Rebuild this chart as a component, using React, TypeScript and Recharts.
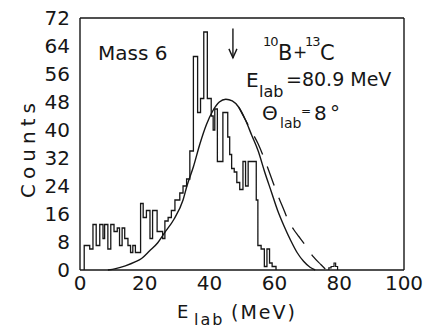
import React from "react"
import { ComposedChart, Line, XAxis, YAxis } from "recharts"

const FONT = "'DejaVu Sans', sans-serif"
const INK = "#161616"

// x ticks (MeV) and y ticks (counts)
const X_TICKS = [0, 20, 40, 60, 80, 100]
const Y_TICKS = [0, 8, 16, 24, 32, 40, 48, 56, 64, 72]

// histogram: left edge of each channel (MeV) and its counts
const HIST_E = [
  1.3, 1.3, 3.0, 4.0, 5.0, 6.1, 7.1, 7.6, 8.6, 9.5, 10.5, 11.5, 12.2, 13.0, 13.8, 14.8, 15.6, 16.3, 17.1,
  18.7, 19.5, 20.5, 21.6, 22.4, 23.8, 25.5, 26.2, 27.2, 28.2, 29.3, 30.8, 31.8, 32.9, 33.9, 35.0, 36.3,
  37.2, 38.2, 39.3, 40.5, 41.1, 41.6, 42.4, 44.1, 45.6, 46.2, 46.8, 47.6, 48.4, 49.3, 50.3, 51.1, 51.9,
  54.4, 54.9, 55.9, 56.9, 57.7, 58.5, 59.3, 60.5,
]
const HIST_COUNTS = [
  0, 7, 6, 13, 7, 13, 9, 13, 6, 13, 11, 12, 7, 12, 9, 7, 5, 7, 5,
  19, 15, 17, 9, 17, 11, 9, 14, 15, 17, 20, 22, 24, 26, 34, 61, 45,
  49, 68, 49, 44, 40, 46, 31, 45, 38, 33, 29, 28, 25, 23, 31, 24, 31,
  20, 7, 6, 1, 6, 2, 1, 0,
]

// the few counts near 80 MeV
const BUMP_E = [76.8, 76.8, 77.5, 78.4, 78.9, 79.5]
const BUMP_COUNTS = [0, 0.6, 1, 2, 1, 0]

// solid calculated curve
const SOLID_E = [
  8.6, 11, 14, 17, 19, 21.5, 24, 26, 29, 31.8, 33, 35, 37, 39, 41, 43, 45, 47, 49, 51, 53, 55, 57, 59, 61,
  63, 65, 67, 69, 71, 72.6,
]
const SOLID_COUNTS = [
  0, 0.4, 1.2, 2.3, 3.3, 5.5, 7.8, 10.5, 14.5, 20, 24, 29.5, 36, 41.5, 45.5, 48, 48.8, 48.3, 46.5, 43,
  38.5, 34, 28, 22.5, 17, 12.5, 8.5, 5, 2.5, 0.8, 0,
]

// dashed curve (splits off the solid one on the high-energy side)
const DASH_E = [49, 51, 53, 55, 57, 59, 61, 63, 64.2, 66, 67.6, 70.2, 72, 74.4, 76]
const DASH_COUNTS = [46.5, 43, 39.5, 36, 31.5, 26.5, 21.5, 17, 14.3, 11.5, 9.5, 6.2, 3.8, 1.5, 0]

// arrow marking the expected energy
const ARROW_E = [47.2, 47.2]
const ARROW_COUNTS = [69, 60.6]

const toPoints = (es: number[], cs: number[]) => es.map((E, i) => ({ E, c: cs[i] }))

const hist = toPoints(HIST_E, HIST_COUNTS)
const bump = toPoints(BUMP_E, BUMP_COUNTS)
const solid = toPoints(SOLID_E, SOLID_COUNTS)
const dashed = toPoints(DASH_E, DASH_COUNTS)
const arrow = toPoints(ARROW_E, ARROW_COUNTS)

const tickStyle = { fill: INK, fontSize: 20, fontFamily: FONT }
const frameLine = { stroke: INK, strokeWidth: 1.4 }
const innerTick = { stroke: INK, strokeWidth: 1.2 }

const ArrowHead = (props: any) => {
  const { cx, cy, index } = props
  if (index !== 1) return <g key={`a-${index}`} />
  return (
    <path
      key={`a-${index}`}
      d={`M${cx - 4},${cy - 9} L${cx},${cy} L${cx + 4},${cy - 9}`}
      fill="none"
      stroke={INK}
      strokeWidth={1.4}
    />
  )
}

export default function App() {
  return (
    <div style={{ position: "absolute", left: 0, top: 0, width: 426, height: 330, background: "#fff" }}>
      <ComposedChart width={426} height={330} margin={{ top: 18, right: 22, bottom: 0, left: 0 }}>
        <XAxis
          xAxisId="x"
          dataKey="E"
          type="number"
          domain={[0, 100]}
          ticks={X_TICKS}
          interval={0}
          height={60}
          tickLine={false}
          axisLine={false}
          tickMargin={0}
          tick={tickStyle}
        />
        <XAxis xAxisId="xb" type="number" domain={[0, 100]} ticks={X_TICKS} interval={0} orientation="bottom"
          mirror tick={false} tickSize={5} axisLine={frameLine} tickLine={innerTick} />
        <XAxis xAxisId="xt" type="number" domain={[0, 100]} ticks={X_TICKS} interval={0} orientation="top"
          mirror tick={false} tickSize={5} axisLine={frameLine} tickLine={innerTick} />
        <YAxis
          yAxisId="y"
          type="number"
          domain={[0, 72]}
          ticks={Y_TICKS}
          interval={0}
          width={80}
          tickLine={false}
          axisLine={false}
          tickMargin={4}
          tick={tickStyle}
        />
        <YAxis yAxisId="yl" type="number" domain={[0, 72]} ticks={Y_TICKS} interval={0} orientation="left"
          mirror tick={false} tickSize={5} axisLine={frameLine} tickLine={innerTick} />
        <YAxis yAxisId="yr" type="number" domain={[0, 72]} ticks={Y_TICKS} interval={0} orientation="right"
          mirror tick={false} tickSize={5} axisLine={frameLine} tickLine={innerTick} />

        <Line xAxisId="x" yAxisId="y" data={hist} dataKey="c" type="stepAfter" stroke={INK} strokeWidth={1.3}
          dot={false} activeDot={false} isAnimationActive={false} />
        <Line xAxisId="x" yAxisId="y" data={bump} dataKey="c" type="stepAfter" stroke={INK} strokeWidth={1.2}
          dot={false} activeDot={false} isAnimationActive={false} />
        <Line xAxisId="x" yAxisId="y" data={solid} dataKey="c" type="monotone" stroke={INK} strokeWidth={1.4}
          dot={false} activeDot={false} isAnimationActive={false} />
        <Line xAxisId="x" yAxisId="y" data={dashed} dataKey="c" type="monotone" stroke={INK} strokeWidth={1.3}
          strokeDasharray="20 13" dot={false} activeDot={false} isAnimationActive={false} />
        <Line xAxisId="x" yAxisId="y" data={arrow} dataKey="c" type="linear" stroke={INK} strokeWidth={1.4}
          dot={ArrowHead} activeDot={false} isAnimationActive={false} />
      </ComposedChart>

      <svg
        width={426}
        height={330}
        style={{ position: "absolute", left: 0, top: 0, pointerEvents: "none" }}
        fontFamily={FONT}
        fill={INK}
      >
        <text x={35} y={148} fontSize={20} letterSpacing={5} textAnchor="middle" transform="rotate(-90 35 148)">
          Counts
        </text>
        <text x={98} y={60} fontSize={20}>Mass 6</text>

        <text x={263} y={46} fontSize={13} letterSpacing={-1}>10</text>
        <text x={278} y={60} fontSize={21}>B</text>
        <text x={293} y={58} fontSize={17}>+</text>
        <text x={305} y={46} fontSize={13} letterSpacing={-1}>13</text>
        <text x={320} y={60} fontSize={21}>C</text>

        <text x={246} y={87} fontSize={20}>E</text>
        <text x={259} y={97} fontSize={16}>lab</text>
        <text x={286} y={86} fontSize={19}>=80.9 MeV</text>

        <text x={262} y={120} fontSize={20}>Θ</text>
        <text x={280} y={128} fontSize={14}>lab</text>
        <text x={301} y={115} fontSize={12}>=</text>
        <text x={314} y={120} fontSize={20}>8</text>
        <text x={330} y={120} fontSize={20}>°</text>

        <text x={177} y={318} fontSize={18}>E</text>
        <text x={194} y={325} fontSize={16} letterSpacing={2}>lab</text>
        <text x={231} y={319} fontSize={19} letterSpacing={2}>(MeV)</text>
      </svg>
    </div>
  )
}
